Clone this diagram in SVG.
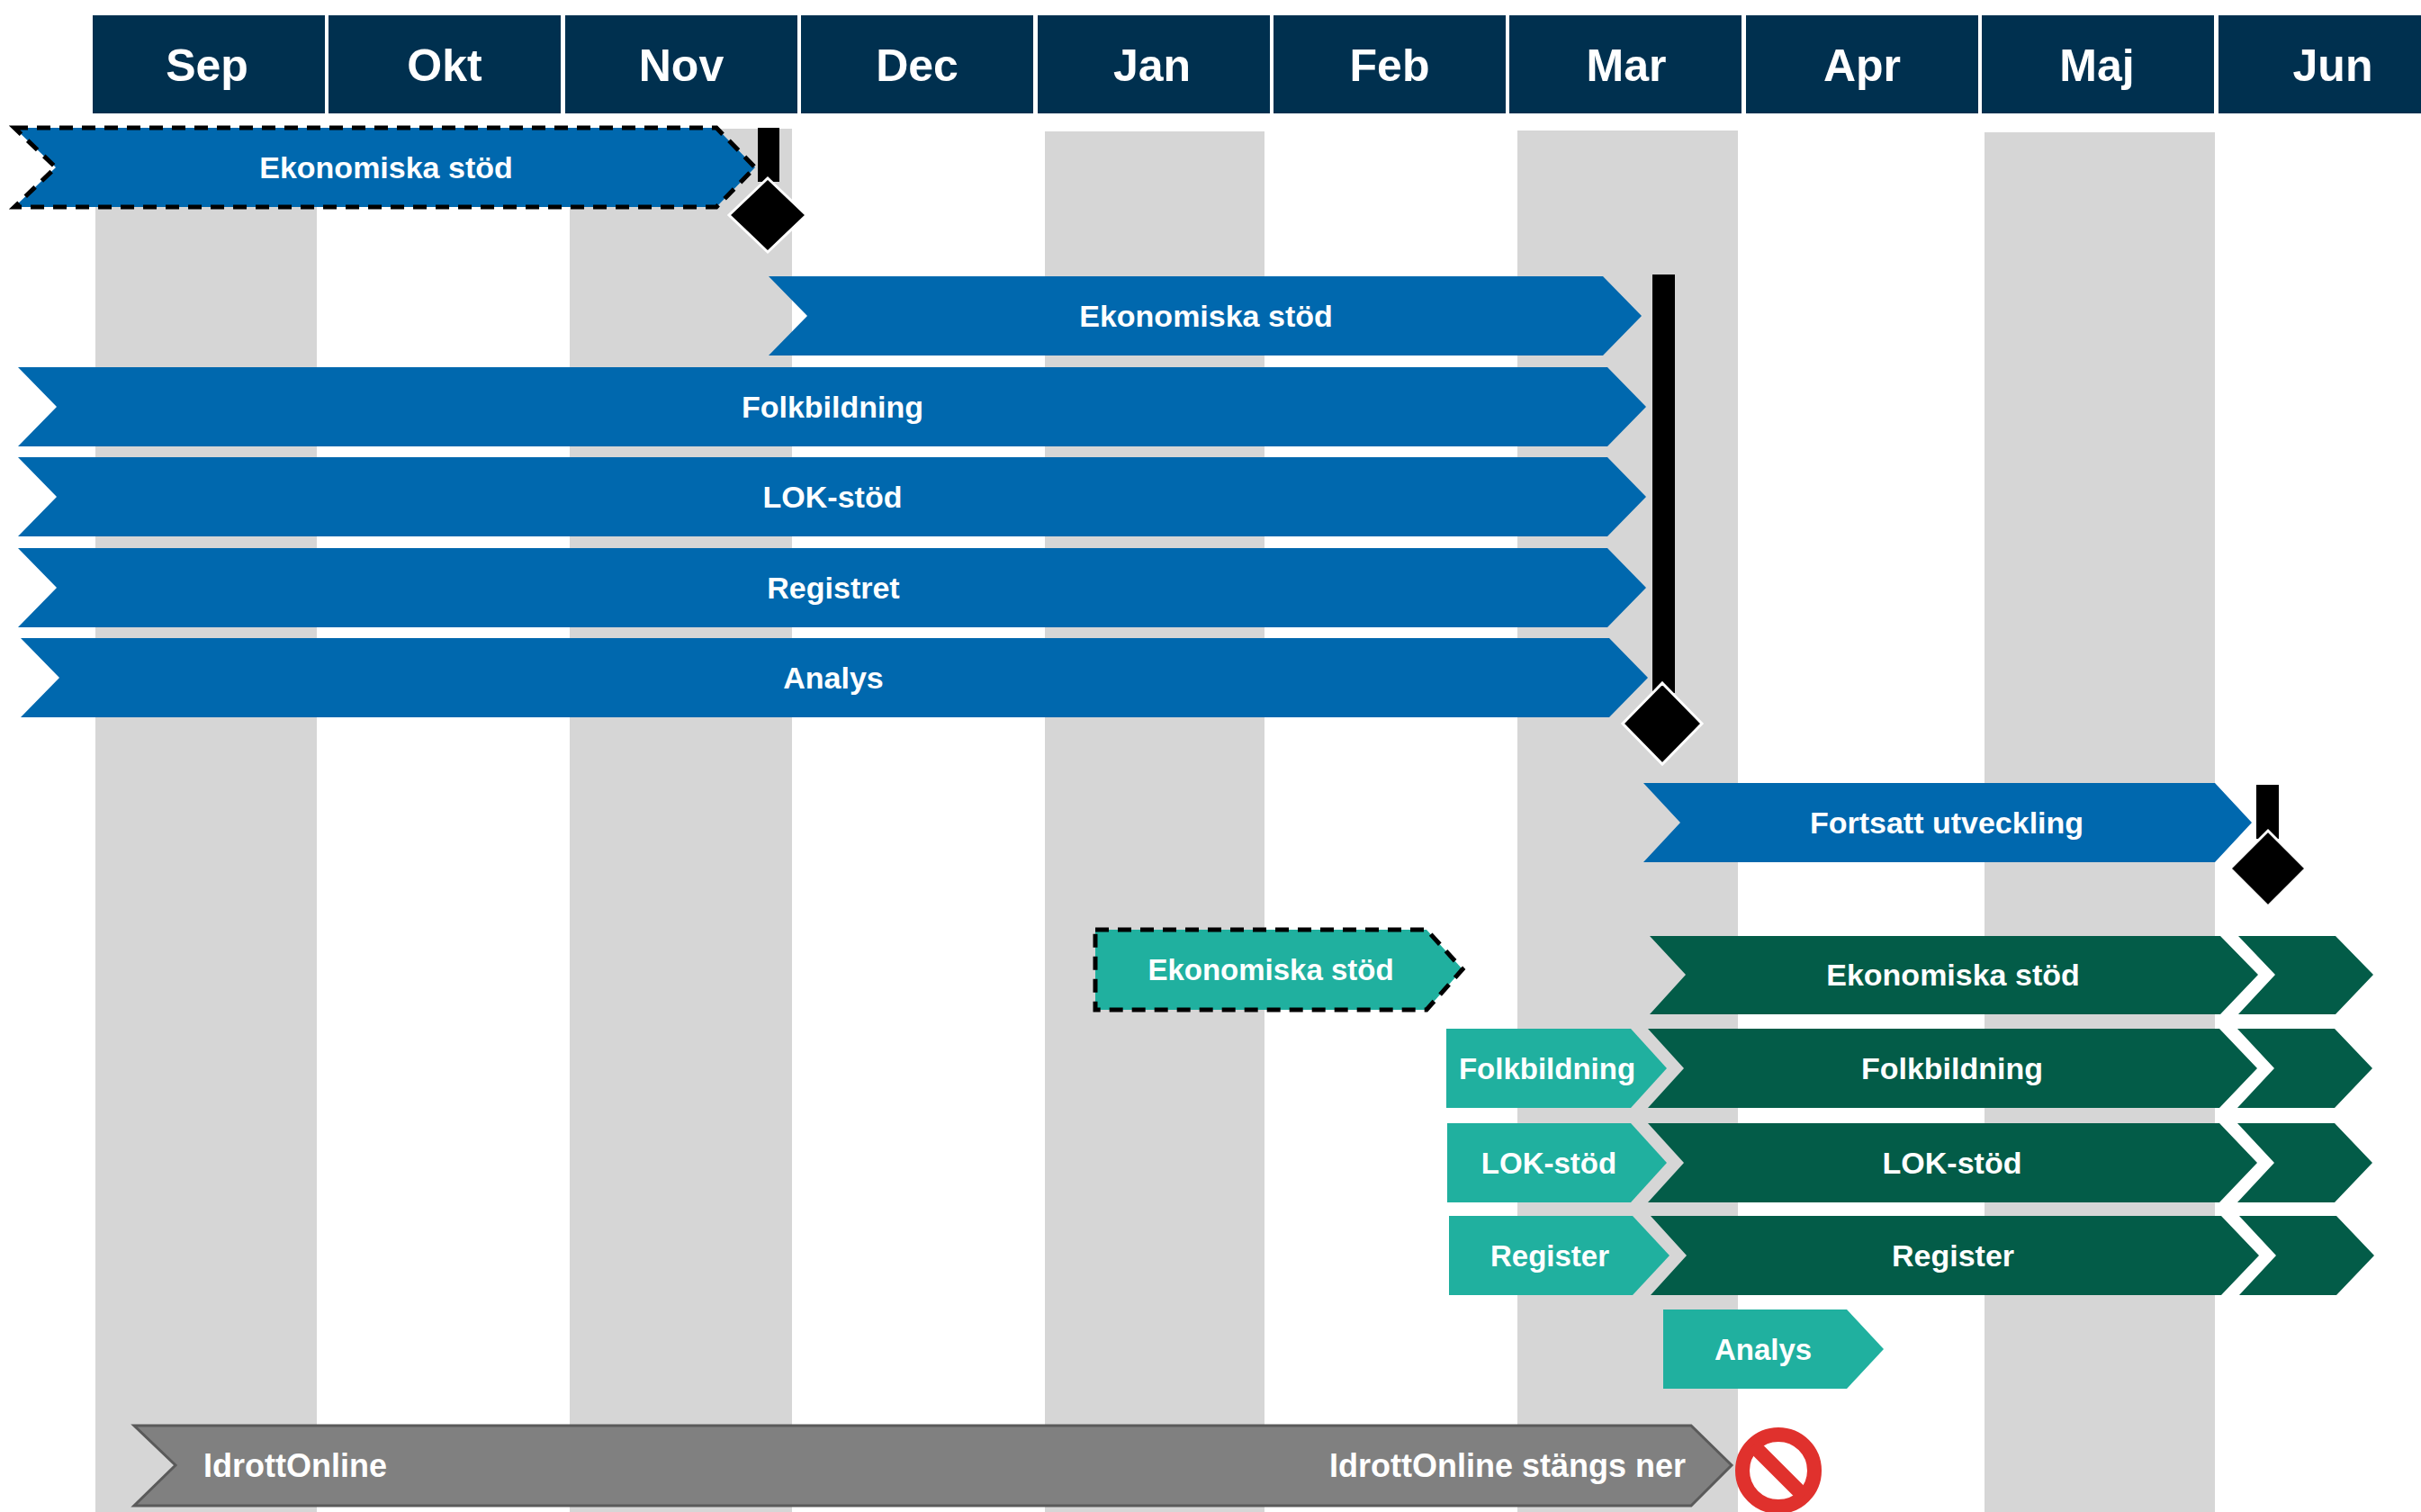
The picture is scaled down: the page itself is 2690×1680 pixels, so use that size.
<svg xmlns="http://www.w3.org/2000/svg" width="2690" height="1680" viewBox="0 0 2690 1680">
<style>
.hdr{fill:#00304f}
.htxt{font-family:"Liberation Sans",Arial,sans-serif;font-weight:bold;font-size:50px;fill:#fff;text-anchor:middle}
.col{fill:#d6d6d6}
.blue{fill:#0068ae}
.teal{fill:#20b09f}
.dg{fill:#035c48}
.dash{stroke:#000;stroke-width:5;stroke-dasharray:15 10}
.gray{fill:#808080;stroke:#5a5a5a;stroke-width:3}
.t{font-family:"Liberation Sans",Arial,sans-serif;font-weight:bold;font-size:34px;fill:#fff;text-anchor:middle}
.ts{font-family:"Liberation Sans",Arial,sans-serif;font-weight:bold;font-size:33px;fill:#fff;text-anchor:middle}
.tg{font-family:"Liberation Sans",Arial,sans-serif;font-weight:bold;font-size:36px;fill:#fff}
.ms{fill:#000}
.dia{fill:#000;stroke:#fff;stroke-width:3}
</style>
<rect width="2690" height="1680" fill="#fff"/>
<g id="columns">
<rect class="col" x="106" y="145" width="246" height="1535"/>
<rect class="col" x="633" y="143" width="247" height="1537"/>
<rect class="col" x="1161" y="146" width="244" height="1534"/>
<rect class="col" x="1686" y="145" width="245" height="1535"/>
<rect class="col" x="2205" y="147" width="256" height="1533"/>
</g>
<g id="header">
<rect class="hdr" x="103" y="17" width="258" height="109"/>
<rect class="hdr" x="365" y="17" width="258" height="109"/>
<rect class="hdr" x="628" y="17" width="258" height="109"/>
<rect class="hdr" x="890" y="17" width="258" height="109"/>
<rect class="hdr" x="1153" y="17" width="258" height="109"/>
<rect class="hdr" x="1415" y="17" width="258" height="109"/>
<rect class="hdr" x="1677" y="17" width="258" height="109"/>
<rect class="hdr" x="1940" y="17" width="258" height="109"/>
<rect class="hdr" x="2202" y="17" width="258" height="109"/>
<rect class="hdr" x="2465" y="17" width="225" height="109"/>
<text class="htxt" x="230" y="90">Sep</text>
<text class="htxt" x="494" y="90">Okt</text>
<text class="htxt" x="757" y="90">Nov</text>
<text class="htxt" x="1019" y="90">Dec</text>
<text class="htxt" x="1280" y="90">Jan</text>
<text class="htxt" x="1544" y="90">Feb</text>
<text class="htxt" x="1807" y="90">Mar</text>
<text class="htxt" x="2069" y="90">Apr</text>
<text class="htxt" x="2330" y="90">Maj</text>
<text class="htxt" x="2592" y="90">Jun</text>
</g>
<g id="bar-ekon-dashed">
<polygon class="blue dash" points="16,142 796,142 839,186 796,230 16,230 62,186"/>
<text class="t" x="429" y="198">Ekonomiska stöd</text>
</g>
<g id="milestone-1">
<rect class="ms" x="842" y="142" width="24" height="60"/>
<polygon class="dia" points="853,198 896,239 853,280 810,239"/>
</g>
<g id="bar-ekon">
<polygon class="blue" points="854,307 1781,307 1824,351 1781,395 854,395 897,351"/>
<text class="t" x="1340" y="363">Ekonomiska stöd</text>
</g>
<g id="bar-folk">
<polygon class="blue" points="20,408 1786,408 1829,452 1786,496 20,496 63,452"/>
<text class="t" x="925" y="464">Folkbildning</text>
</g>
<g id="bar-lok">
<polygon class="blue" points="20,508 1786,508 1829,552 1786,596 20,596 63,552"/>
<text class="t" x="925" y="564">LOK-stöd</text>
</g>
<g id="bar-registret">
<polygon class="blue" points="20,609 1786,609 1829,653 1786,697 20,697 63,653"/>
<text class="t" x="926" y="665">Registret</text>
</g>
<g id="bar-analys">
<polygon class="blue" points="23,709 1788,709 1831,753 1788,797 23,797 66,753"/>
<text class="t" x="926" y="765">Analys</text>
</g>
<g id="milestone-2">
<rect class="ms" x="1836" y="305" width="25" height="465"/>
<polygon class="dia" points="1847,759 1891,804 1847,849 1803,804"/>
</g>
<g id="bar-fortsatt">
<polygon class="blue" points="1826,870 2461,870 2502,914 2461,958 1826,958 1867,914"/>
<text class="t" x="2163" y="926">Fortsatt utveckling</text>
</g>
<g id="milestone-3">
<rect class="ms" x="2507" y="872" width="25" height="60"/>
<polygon class="dia" points="2520,923 2562,965 2520,1007 2478,965"/>
</g>
<g id="teal-ekon-dashed">
<polygon class="teal dash" points="1217,1033 1585,1033 1625,1077 1585,1122 1217,1122"/>
<text class="ts" x="1412" y="1089">Ekonomiska stöd</text>
</g>
<g id="dg-ekon">
<polygon class="dg" points="1833,1040 2467,1040 2509,1083 2467,1127 1833,1127 1873,1083"/>
<polygon class="dg" points="2487,1040 2595,1040 2637,1083 2595,1127 2487,1127 2528,1083"/>
<text class="t" x="2170" y="1095">Ekonomiska stöd</text>
</g>
<g id="teal-folk">
<polygon class="teal" points="1607,1143 1812,1143 1852,1187 1812,1231 1607,1231"/>
<text class="ts" x="1719" y="1199">Folkbildning</text>
</g>
<g id="dg-folk">
<polygon class="dg" points="1831,1143 2466,1143 2508,1187 2466,1231 1831,1231 1871,1187"/>
<polygon class="dg" points="2486,1143 2594,1143 2636,1187 2594,1231 2486,1231 2527,1187"/>
<text class="t" x="2169" y="1199">Folkbildning</text>
</g>
<g id="teal-lok">
<polygon class="teal" points="1608,1248 1812,1248 1852,1292 1812,1336 1608,1336"/>
<text class="ts" x="1721" y="1304">LOK-stöd</text>
</g>
<g id="dg-lok">
<polygon class="dg" points="1831,1248 2466,1248 2508,1292 2466,1336 1831,1336 1871,1292"/>
<polygon class="dg" points="2486,1248 2594,1248 2636,1292 2594,1336 2486,1336 2527,1292"/>
<text class="t" x="2169" y="1304">LOK-stöd</text>
</g>
<g id="teal-register">
<polygon class="teal" points="1610,1351 1814,1351 1855,1395 1814,1439 1610,1439"/>
<text class="ts" x="1722" y="1407">Register</text>
</g>
<g id="dg-register">
<polygon class="dg" points="1834,1351 2468,1351 2510,1395 2468,1439 1834,1439 1874,1395"/>
<polygon class="dg" points="2488,1351 2596,1351 2638,1395 2596,1439 2488,1439 2529,1395"/>
<text class="t" x="2170" y="1407">Register</text>
</g>
<g id="teal-analys">
<polygon class="teal" points="1848,1455 2052,1455 2093,1499 2052,1543 1848,1543"/>
<text class="ts" x="1959" y="1511">Analys</text>
</g>
<g id="bar-idrottonline">
<polygon class="gray" points="149,1584 1879,1584 1924,1628 1879,1673 149,1673 195,1628"/>
<text class="tg" x="226" y="1641">IdrottOnline</text>
<text class="tg" x="1873" y="1641" text-anchor="end">IdrottOnline stängs ner</text>
</g>
<g id="stop-icon">
<circle cx="1976" cy="1634" r="40" fill="#fff" stroke="#e0312d" stroke-width="16"/>
<line x1="1948" y1="1606" x2="2004" y2="1662" stroke="#e0312d" stroke-width="16"/>
</g>
<g id="connectors"></g>
</svg>
